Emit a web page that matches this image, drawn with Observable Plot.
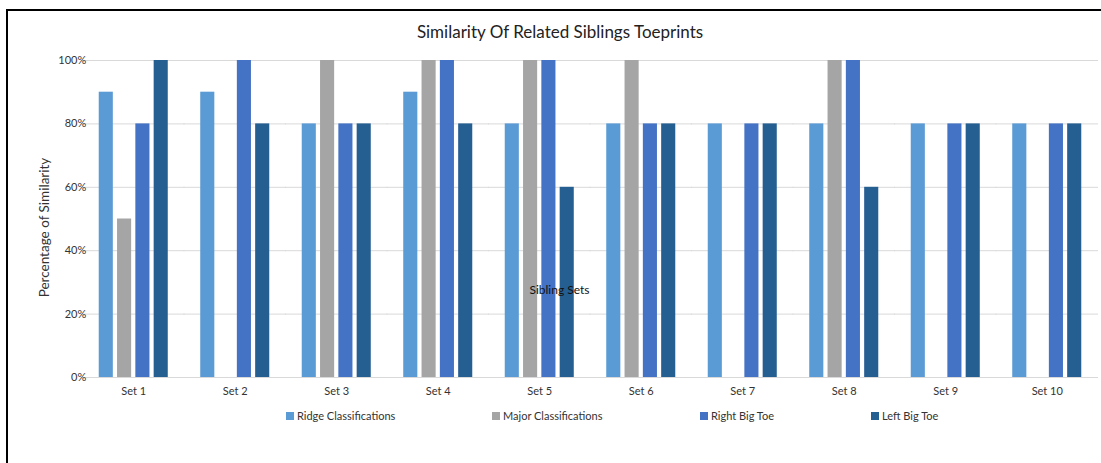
<!DOCTYPE html>
<html>
<head>
<meta charset="utf-8">
<script src="https://cdn.jsdelivr.net/npm/d3@7"></script>
<script src="https://cdn.jsdelivr.net/npm/@observablehq/plot@0.6"></script>
<style>
  html, body { margin: 0; padding: 0; background: #fff; }
  #wrap { position: relative; width: 1101px; height: 463px; overflow: hidden; font-family: Lato, "Liberation Sans", sans-serif; }
  #frame { position: absolute; left: 6px; top: 9px; width: 1200px; height: 600px; border-left: 2px solid #000; border-top: 2px solid #000; box-sizing: border-box; pointer-events: none; }
  #title { position: absolute; left: 0; width: 1120px; top: 21px; text-align: center; font-size: 17px; color: #222; }
  #legend { position: absolute; top: 409px; left: 0; width: 1101px; height: 16px; font-size: 11px; color: #333; }
  .item { position: absolute; display: flex; align-items: center; white-space: nowrap; }
  .sw { width: 8px; height: 8px; margin-right: 3px; display: inline-block; }
  #chart { position: absolute; left: 0; top: 0; }
</style>
</head>
<body>
<div id="wrap">
  <div id="chart"></div>
  <div id="title">Similarity Of Related Siblings Toeprints</div>
  <div id="legend"></div>
  <div id="frame"></div>
</div>
<script>
const sets = ["Set 1","Set 2","Set 3","Set 4","Set 5","Set 6","Set 7","Set 8","Set 9","Set 10"];
const seriesNames = ["Ridge Classifications","Major Classifications","Right Big Toe","Left Big Toe"];
const colors = ["#5B9BD5","#A5A5A5","#4472C4","#255E91"];
const ridge = [90, 90, 80, 90, 80, 80, 80, 80, 80, 80];
const major = [50, 0, 100, 100, 100, 100, 0, 100, 0, 0];
const rightToe = [80, 100, 80, 100, 100, 80, 80, 100, 80, 80];
const leftToe = [100, 80, 80, 80, 60, 80, 80, 60, 80, 80];
const yTicks = [0, 20, 40, 60, 80, 100];

const valuesBySeries = [ridge, major, rightToe, leftToe];
const data = [];
sets.forEach((s, i) => {
  seriesNames.forEach((name, j) => {
    data.push({set: s, series: name, value: valuesBySeries[j][i]});
  });
});

const chart = Plot.plot({
  width: 1101,
  height: 463,
  marginTop: 60,
  marginBottom: 86,
  marginLeft: 83,
  marginRight: 4,
  style: {fontFamily: "Lato, 'Liberation Sans', sans-serif", fontSize: "11px", color: "#333", background: "transparent"},
  fx: {domain: sets, paddingInner: 0.32, paddingOuter: 0.155, round: false, label: null},
  x: {domain: seriesNames, paddingInner: 0.23, paddingOuter: 0, round: false, axis: null},
  y: {domain: [0, 100], ticks: yTicks, label: null},
  color: {domain: seriesNames, range: colors},
  marks: [
    Plot.ruleY(yTicks, {stroke: "#d9d9d9", strokeWidth: 1, insetLeft: -16.8, insetRight: -16.8}),
    Plot.axisY({ticks: yTicks, tickSize: 0, tickPadding: 13, tickFormat: d => d + "%", label: null, fontSize: 11}),
    Plot.axisFx({anchor: "bottom", tickSize: 0, tickPadding: 10, label: null, fontSize: 11}),
    Plot.barY(data.filter(d => d.value > 0), {fx: "set", x: "series", y: "value", fill: "series"}),
    Plot.text(["Percentage of Similarity"], {frameAnchor: "left", textAnchor: "middle", dx: -55, dy: 8.5, rotate: -90, fontSize: 13.5, fill: "#333", facet: "super"}),
    Plot.text(["Sibling Sets"], {frameAnchor: "middle", dx: -31, dy: 71.5, fontSize: 12, fill: "#111", facet: "super"})
  ]
});
document.getElementById("chart").appendChild(chart);

const legendPos = [286, 492, 700, 871];
const legend = document.getElementById("legend");
seriesNames.forEach((name, j) => {
  const it = document.createElement("div");
  it.className = "item";
  it.style.left = legendPos[j] + "px";
  it.innerHTML = `<span class="sw" style="background:${colors[j]}"></span><span>${name}</span>`;
  legend.appendChild(it);
});
</script>
</body>
</html>
